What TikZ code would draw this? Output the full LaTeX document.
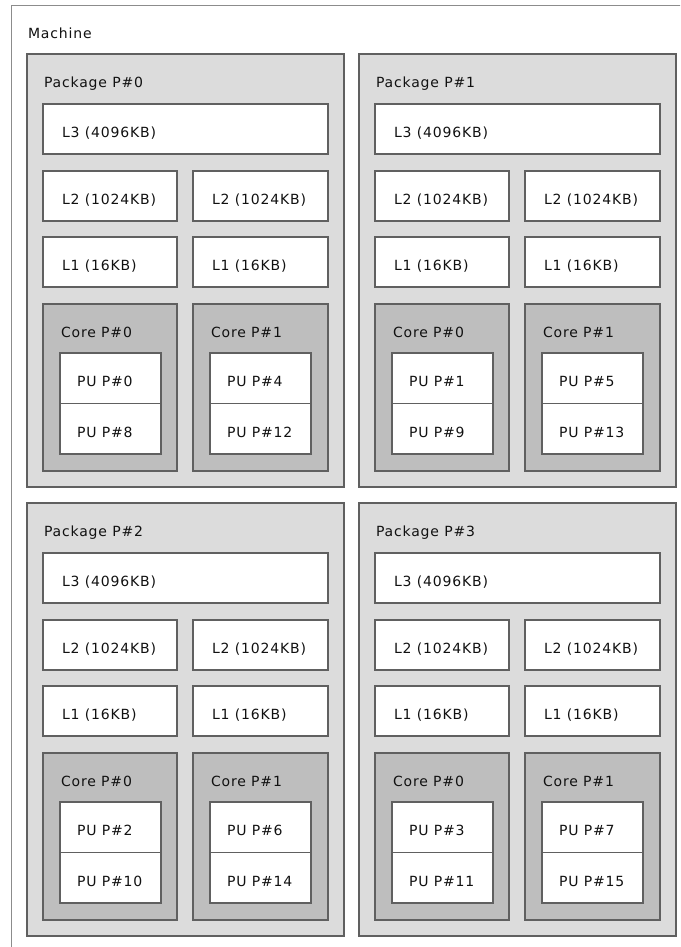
\documentclass[tikz,border=0pt]{standalone}
\usepackage{fontspec}
\setmainfont{DejaVu Sans}[LetterSpace=6]
\definecolor{pkgfill}{HTML}{DCDCDC}
\definecolor{corefill}{HTML}{BEBEBE}
\definecolor{boxline}{HTML}{606060}
\definecolor{machline}{HTML}{8C8C8C}
\definecolor{txt}{HTML}{111111}
\tikzset{
  hwbase/.style={draw=boxline, line width=1.7pt, inner sep=0pt, outer sep=0pt, rectangle},
  pkgbox/.style={hwbase, fill=pkgfill},
  corebox/.style={hwbase, fill=corefill},
  cachebox/.style={hwbase, fill=white},
  pubox/.style={hwbase, fill=white},
  machbox/.style={draw=machline, line width=1pt, fill=white, inner sep=0pt, outer sep=0pt, rectangle},
  lbl/.style={inner sep=0pt, outer sep=0pt, text=txt, font=\fontsize{14}{16}\selectfont},
}
% #1 name, #2 style, #3 x, #4 y, #5 w, #6 h, #7 text, #8 text dx
\newcommand{\hwbox}[8]{%
  \node[#2, minimum width=#5pt, minimum height=#6pt, anchor=north west] (#1) at (#3,#4) {};
  \node[lbl, anchor=base west] (#1-t) at ([xshift=#8pt, yshift=-33.5pt]#1.north west) {#7};
}
\begin{document}
\begin{tikzpicture}[x=1pt, y=-1pt]
\useasboundingbox (0,0) rectangle (680,947);
\fill[white] (0,0) rectangle (680,947);
\begin{scope}
\clip (0,0) rectangle (680,947);
\hwbox{machine}{machbox}{11.5}{5.5}{720}{980}{Machine}{16.5}
\end{scope}
\foreach \p/\px/\py/\ua/\ub/\uc/\ud in {0/27/54/0/8/4/12, 1/359/54/1/9/5/13, 2/27/503/2/10/6/14, 3/359/503/3/11/7/15}{
  \hwbox{pkg\p}{pkgbox}{\px}{\py}{317}{433}{Package P\#\p}{17}
  \hwbox{l3-\p}{cachebox}{\px+16}{\py+50}{285}{50}{L3 (4096KB)}{19}
  \hwbox{l2a-\p}{cachebox}{\px+16}{\py+117}{134}{50}{L2 (1024KB)}{19}
  \hwbox{l2b-\p}{cachebox}{\px+166}{\py+117}{135}{50}{L2 (1024KB)}{19}
  \hwbox{l1a-\p}{cachebox}{\px+16}{\py+183}{134}{50}{L1 (16KB)}{19}
  \hwbox{l1b-\p}{cachebox}{\px+166}{\py+183}{135}{50}{L1 (16KB)}{19}
  \hwbox{corea-\p}{corebox}{\px+16}{\py+250}{134}{167}{Core P\#0}{18}
  \hwbox{coreb-\p}{corebox}{\px+166}{\py+250}{135}{167}{Core P\#1}{18}
  \hwbox{pua-\p}{pubox}{\px+33}{\py+299}{101}{50.5}{PU P\#\ua}{17}
  \hwbox{pub-\p}{pubox}{\px+33}{\py+349.5}{101}{50.5}{PU P\#\ub}{17}
  \hwbox{puc-\p}{pubox}{\px+183}{\py+299}{101}{50.5}{PU P\#\uc}{17}
  \hwbox{pud-\p}{pubox}{\px+183}{\py+349.5}{101}{50.5}{PU P\#\ud}{17}
}
\end{tikzpicture}
\end{document}
